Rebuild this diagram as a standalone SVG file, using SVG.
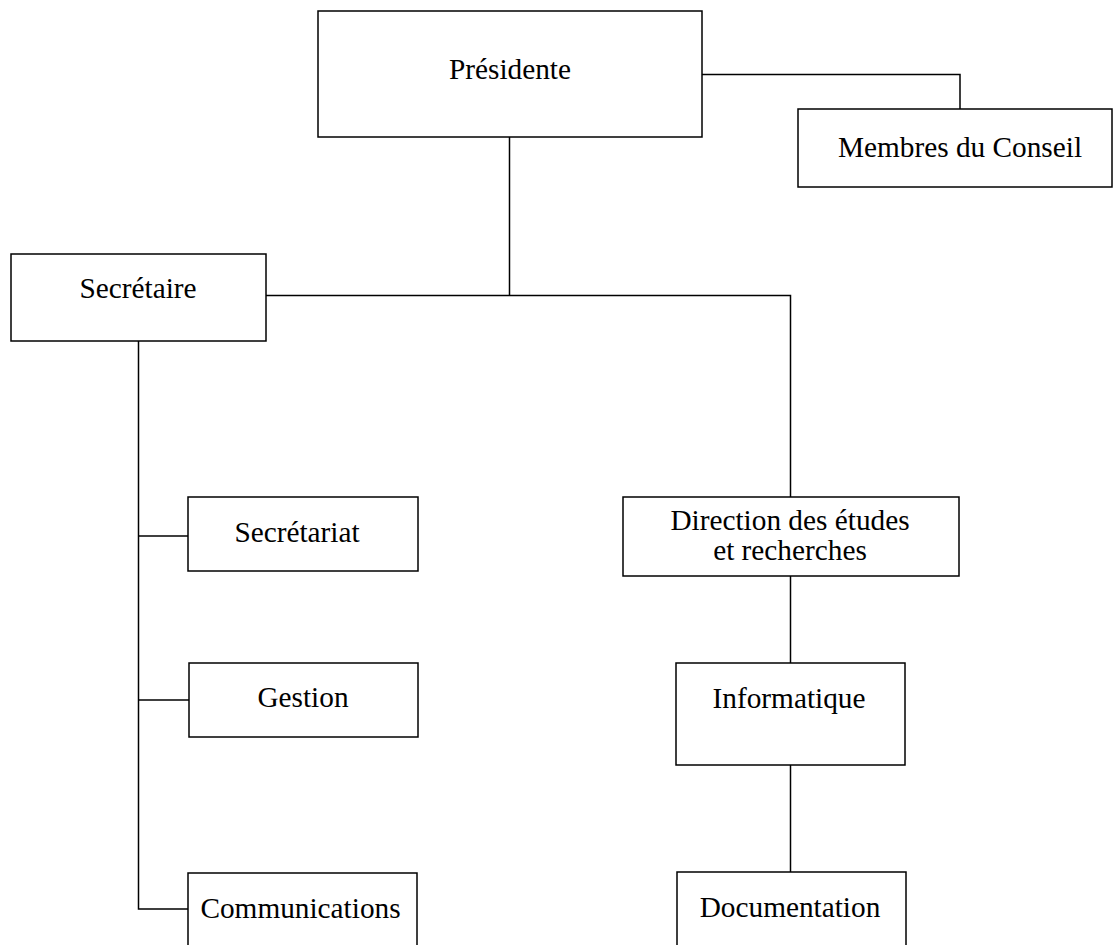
<svg xmlns="http://www.w3.org/2000/svg" width="1113" height="945" viewBox="0 0 1113 945">
<style>
.box{fill:#fff;stroke:#000;stroke-width:1.5}
.lbl{font-family:"Liberation Serif","Times New Roman",serif;font-size:29.3px;fill:#000;text-anchor:middle}
.con{fill:none;stroke:#000;stroke-width:1.5}
</style>
<rect width="1113" height="945" fill="#fff"/>
<g id="connectors">
<polyline class="con" points="702,74.5 960,74.5 960,109"/>
<line class="con" x1="509.5" y1="137" x2="509.5" y2="296"/>
<polyline class="con" points="266,295.5 790.5,295.5 790.5,497"/>
<polyline class="con" points="138.5,341 138.5,909 188,909"/>
<line class="con" x1="138.5" y1="536" x2="188" y2="536"/>
<line class="con" x1="138.5" y1="700" x2="189" y2="700"/>
<line class="con" x1="790.5" y1="576" x2="790.5" y2="663"/>
<line class="con" x1="790.5" y1="765" x2="790.5" y2="872"/>
</g>
<g id="presidente">
<rect class="box" x="318" y="11" width="384" height="126"/>
<text class="lbl" x="510" y="79">Présidente</text>
</g>
<g id="membres">
<rect class="box" x="798" y="109" width="314" height="78"/>
<text class="lbl" x="960" y="157">Membres du Conseil</text>
</g>
<g id="secretaire">
<rect class="box" x="11" y="254" width="255" height="87"/>
<text class="lbl" x="138" y="298">Secrétaire</text>
</g>
<g id="secretariat">
<rect class="box" x="188" y="497" width="230" height="74"/>
<text class="lbl" x="297" y="542">Secrétariat</text>
</g>
<g id="gestion">
<rect class="box" x="189" y="663" width="229" height="74"/>
<text class="lbl" x="303" y="707">Gestion</text>
</g>
<g id="communications">
<rect class="box" x="188" y="873" width="229" height="80"/>
<text class="lbl" x="300.5" y="918">Communications</text>
</g>
<g id="direction">
<rect class="box" x="623" y="497" width="336" height="79"/>
<text class="lbl" x="790" y="530">Direction des études</text>
<text class="lbl" x="790" y="560">et recherches</text>
</g>
<g id="informatique">
<rect class="box" x="676" y="663" width="229" height="102"/>
<text class="lbl" x="789" y="708">Informatique</text>
</g>
<g id="documentation">
<rect class="box" x="677" y="872" width="229" height="80"/>
<text class="lbl" x="790" y="917">Documentation</text>
</g>
</svg>
